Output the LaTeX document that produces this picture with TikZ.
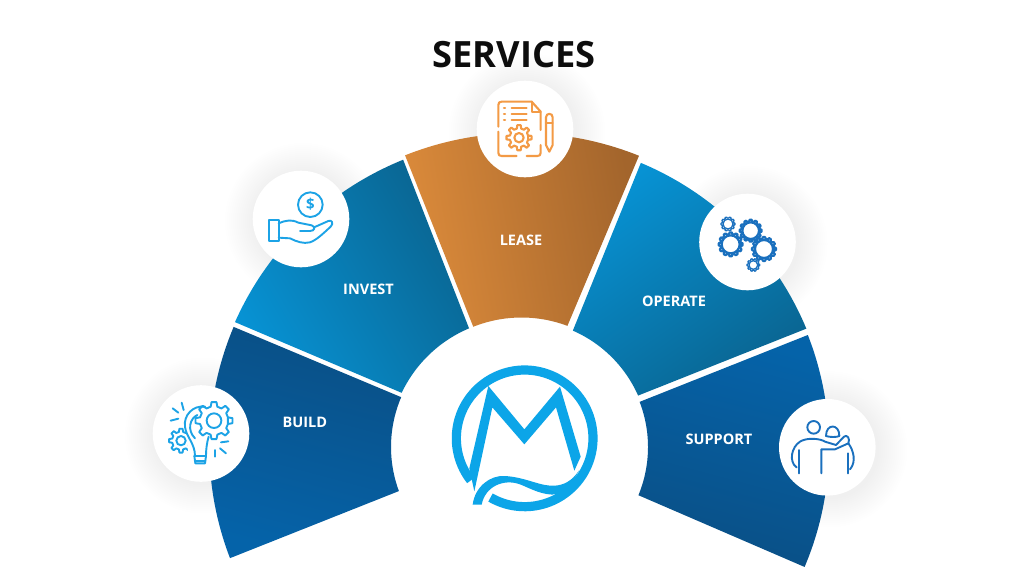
\documentclass[tikz,border=0pt]{standalone}
\usepackage{fontspec}
\setmainfont{Open Sans}
\newcommand{\sectorshape}[9]{%
  \shade[#1] plot[domain=#6:#7,samples=40] ({#2+#4*cos(\x)},{#3+#4*sin(\x)})
   -- plot[domain=#9:#8,samples=30] ({#2+#5*cos(\x)},{#3+#5*sin(\x)}) -- cycle;}
\newcommand{\softshadow}[2]{%
  \foreach \rr in {50,52,...,78}{\fill[black,opacity=0.0035] ({#1+2},{#2+2}) circle (\rr);}}
% opts cx cy rout rroot teeth hole
\newcommand{\gearicon}[7]{%
  \draw[#1] ({#2+#5*cos(-0.3*360/#6)},{#3+#5*sin(-0.3*360/#6)})
   \foreach \k in {0,...,#6}{
    -- ({#2+#5*cos((\k-0.3)*360/#6)},{#3+#5*sin((\k-0.3)*360/#6)})
    -- ({#2+#4*cos((\k-0.17)*360/#6)},{#3+#4*sin((\k-0.17)*360/#6)})
    -- ({#2+#4*cos((\k+0.17)*360/#6)},{#3+#4*sin((\k+0.17)*360/#6)})
    -- ({#2+#5*cos((\k+0.3)*360/#6)},{#3+#5*sin((\k+0.3)*360/#6)})
   } -- cycle;
  \draw[#1] (#2,#3) circle (#7);}
\definecolor{logoblue}{HTML}{0CA5E8}
\definecolor{iconblue}{HTML}{1CA3E6}
\definecolor{icondeep}{HTML}{1A70BE}
\definecolor{iconorange}{HTML}{F39A45}
\definecolor{navyA}{HTML}{0A4F85}
\definecolor{navyB}{HTML}{0563A9}
\definecolor{skyA}{HTML}{0792D3}
\definecolor{skyB}{HTML}{0A6490}
\definecolor{amberA}{HTML}{DC8B3B}
\definecolor{amberB}{HTML}{A3652C}
\tikzset{
  ball/.style={circle,fill=white,minimum size=96.6pt,inner sep=0pt},
  seglabel/.style={text=white,font=\fontsize{14.5}{16}\selectfont\bfseries,inner sep=0pt},
  zoomed/.style={x=0.33333pt,y=-0.33333pt},
  iconline/.style={line width=1.9pt,line cap=round,line join=round},
}
\begin{document}
\begin{tikzpicture}[x=1pt,y=-1pt]
\useasboundingbox (0,0) rectangle (1024,576);
\fill[white] (0,0) rectangle (1024,576);
% soft shadows
\softshadow{201}{433.5}
\softshadow{301}{219}
\softshadow{525}{129}
\softshadow{747.5}{242}
\softshadow{827.3}{447.3}
% segments
\sectorshape{top color=navyA,bottom color=navyB,shading angle=-15}{518}{447}{308.7}{127}{158.9}{202.9}{159.7}{203.1}
\sectorshape{top color=skyB,bottom color=skyA,shading angle=-60}{520}{449}{312}{131}{204}{248}{205.4}{247.1}
\sectorshape{top color=amberB,bottom color=amberA,shading angle=-80}{521.5}{448}{315}{130.5}{248.3}{291.9}{248.3}{290.6}
\sectorshape{top color=skyA,bottom color=skyB,shading angle=35}{522}{447}{308}{127}{292.7}{337.4}{293.6}{336.1}
\sectorshape{top color=navyB,bottom color=navyA,shading angle=-15}{522}{447}{307}{126}{-21.4}{23}{-21}{22.5}
% balls
\node[ball] (buildball) at (201,433.5) {};
\node[ball] (investball) at (301,219) {};
\node[ball] (leaseball) at (525,129) {};
\node[ball] (operateball) at (747.5,242) {};
\node[ball] (supportball) at (827.3,447.3) {};
% texts
\node[text=black!95,font=\fontsize{36.2}{40}\selectfont\bfseries,inner sep=0pt] (title) at (514.2,55) {SERVICES};
\node[seglabel] (build) at (304.8,422.5) {BUILD};
\node[seglabel] (invest) at (368.5,289) {INVEST};
\node[seglabel] (lease) at (521,240) {LEASE};
\node[seglabel] (operate) at (674,301.5) {OPERATE};
\node[seglabel] (support) at (719,439) {SUPPORT};
% logo
\begin{scope}[shift={(430,350)},zoomed]
\draw[logoblue,line width=9.2pt] plot[domain=142:480,samples=120] ({284+205*cos(\x)},{265+205*sin(\x)});
\fill[logoblue] (175,108) -- (283,238) -- (390,110) -- (452,320) -- (433,362) -- (378,172) -- (283,283) -- (187,172) -- (133,424) -- (118,355) -- cycle;
\fill[logoblue] (128,464) .. controls (135,410) and (180,375) .. (225,378)
  .. controls (290,382) and (330,410) .. (375,407)
  .. controls (400,405) and (425,395) .. (448,360)
  -- (420,410) -- (380,433)
  .. controls (340,438) and (300,415) .. (270,403)
  .. controls (220,385) and (165,410) .. (155,464) -- cycle;
\end{scope}
% hand icon
\begin{scope}[shift={(140,170)},zoomed,iconline,draw=iconblue]
\draw (511,104) circle (37);
\node[text=iconblue,font=\fontsize{15}{15}\selectfont\bfseries,inner sep=0pt] (dollar) at (511,104) {\$};
\draw (388,150) rectangle (416,212);
\draw (416,160) .. controls (440,150) and (455,148) .. (475,158) -- (515,166)
  .. controls (527,170) and (525,183) .. (510,183) -- (480,183);
\draw (522,172) -- (565,153) .. controls (575,148) and (582,160) .. (572,170)
  .. controls (550,190) and (530,210) .. (510,217)
  .. controls (490,222) and (470,215) .. (450,205) -- (416,203);
\end{scope}
% build icon
\begin{scope}[shift={(140,170)},zoomed,iconline,draw=iconblue]
\gearicon{iconblue,iconline}{222}{752}{56}{43}{8}{22}
\gearicon{iconblue,iconline}{123}{812}{36}{27}{8}{14}
\fill[white] (140,760) -- (175,775) -- (170,860) -- (145,860) -- cycle;
\draw (195,710) .. controls (160,705) and (130,735) .. (135,770) .. controls (138,800) and (165,820) .. (165,858);
\draw (172,735) .. controls (150,745) and (140,780) .. (165,805);
\draw (206,800) .. controls (200,820) and (198,840) .. (198,858);
\draw (163,858) -- (198,858) (165,872) -- (196,872);
\draw (163,858) -- (166,880) -- (195,880) -- (198,858);
\draw (98,715) -- (115,728) (125,698) -- (131,720) (92,752) -- (115,746);
\draw (243,817) -- (265,814) (240,835) -- (258,850) (225,840) -- (225,860);
\end{scope}
% lease icon
\begin{scope}[shift={(420,30)},zoomed,iconline,draw=iconorange,line width=2.1pt]
\draw (235,290) -- (235,225) .. controls (235,218) and (238,215) .. (245,215) -- (335,215) -- (362,245) -- (362,300);
\draw (335,215) -- (335,245) -- (362,245);
\draw (235,305) -- (235,368) .. controls (235,375) and (238,378) .. (245,378) -- (290,378);
\draw (320,378) -- (352,378) .. controls (359,378) and (362,375) .. (362,368) -- (362,345);
\draw (252,235) -- (255,235) (252,252) -- (255,252) (252,270) -- (255,270);
\draw (275,235) -- (320,235) (275,252) -- (320,252) (275,270) -- (320,270);
\gearicon{iconorange,iconline,line width=2.1pt}{297}{323}{38}{28}{8}{14}
\draw (378,262) .. controls (378,248) and (398,248) .. (398,262) -- (398,345) -- (388,365) -- (378,345) -- cycle;
\draw (378,278) -- (398,278);
\end{scope}
% operate icon
\begin{scope}[shift={(680,180)},zoomed,iconline,draw=icondeep]
\gearicon{icondeep,line width=1.3pt,line join=round}{144}{132}{21}{18}{10}{15}
\gearicon{icondeep,line width=2.2pt,line join=round}{152}{193}{36}{31}{12}{27}
\gearicon{icondeep,line width=2.2pt,line join=round}{212}{152}{33}{28}{12}{25}
\gearicon{icondeep,line width=2.2pt,line join=round}{252}{207}{36}{31}{12}{27}
\gearicon{icondeep,line width=1.3pt,line join=round}{220}{255}{19}{16}{10}{13}
\end{scope}
% support icon
\begin{scope}[shift={(680,180)},zoomed,iconline,draw=icondeep]
\draw (401,742) circle (19);
\draw (438,768) .. controls (438,730) and (478,730) .. (478,768);
\draw (350,862) .. controls (325,845) and (335,800) .. (360,785)
  .. controls (380,772) and (420,775) .. (435,785) -- (468,795) -- (492,770)
  .. controls (500,762) and (512,775) .. (505,790) -- (465,808) -- (424,808) -- (424,880);
\draw (357,810) -- (357,880);
\draw (438,768) .. controls (450,772) and (470,772) .. (478,768);
\draw (505,790) .. controls (520,810) and (530,845) .. (510,868);
\draw (503,820) -- (503,880);
\end{scope}
\end{tikzpicture}
\end{document}
